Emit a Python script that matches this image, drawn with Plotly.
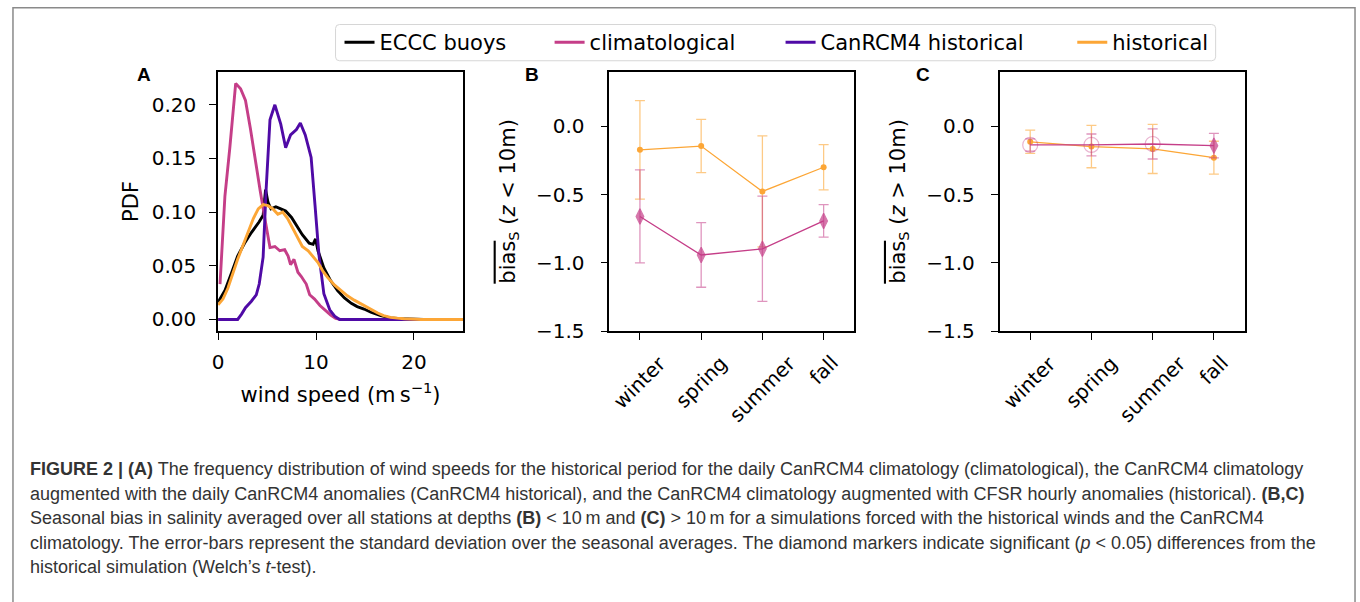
import plotly.graph_objects as go

W, H = 1360, 602

# ---------------- data ----------------
# Panel A: wind-speed PDFs
ws_eccc = [0, 0.7, 1.4, 2.0, 2.7, 3.4, 4.2, 4.6, 4.85, 5.1, 5.4, 5.9, 6.4, 6.9, 7.5, 8.0,
           8.6, 9.3, 9.7, 9.95, 10.2, 10.8, 11.5, 12.2, 12.9, 13.6, 14.2, 14.9, 15.6,
           16.6, 17.6, 18.6, 19.6, 21, 23, 25]
pdf_eccc = [0.016, 0.027, 0.044, 0.059, 0.071, 0.081, 0.091, 0.097, 0.121, 0.109, 0.103,
            0.105, 0.103, 0.101, 0.095, 0.088, 0.079, 0.071, 0.070, 0.075, 0.064, 0.048,
            0.036, 0.027, 0.020, 0.015, 0.012, 0.0097, 0.0067, 0.0036, 0.0015, 0.0006,
            0.0002, 0.0001, 0.0, 0.0]

ws_clim = [0.2, 0.7, 1.2, 1.8, 2.3, 2.8, 3.3, 3.8, 4.3, 4.8, 5.3, 5.8, 6.3, 6.8, 7.15, 7.4,
           7.75, 8.15, 8.5, 9.0, 9.35, 9.85, 10.4, 10.9, 11.5, 12.0, 12.5]
pdf_clim = [0.033, 0.115, 0.160, 0.220, 0.215, 0.204, 0.178, 0.147, 0.120, 0.093, 0.067,
            0.068, 0.064, 0.065, 0.059, 0.051, 0.056, 0.044, 0.040, 0.033, 0.023, 0.019,
            0.013, 0.009, 0.004, 0.001, 0.0]

ws_canrcm = [0, 0.5, 1.0, 1.5, 2.0, 2.4, 2.8, 3.4, 3.9, 4.2, 4.6, 4.9, 5.3, 5.8, 6.4, 6.9,
             7.4, 8.0, 8.4, 8.9, 9.5, 9.9, 10.3, 10.8, 11.4, 11.9, 12.4, 15, 20, 25]
pdf_canrcm = [0, 0, 0, 0, 0, 0.005, 0.011, 0.017, 0.023, 0.033, 0.058, 0.120, 0.186, 0.200,
              0.182, 0.160, 0.172, 0.177, 0.183, 0.172, 0.151, 0.106, 0.060, 0.024, 0.009,
              0.003, 0.0, 0.0, 0.0, 0.0]

ws_hist = [0, 0.5, 1.0, 1.5, 2.0, 2.5, 3.05, 3.6, 4.1, 4.6, 5.1, 5.6, 6.1, 6.6, 7.1, 7.6,
           8.1, 8.6, 9.2, 9.7, 10.2, 10.7, 11.2, 11.9, 12.5, 13.2, 13.9, 14.6, 15.1, 15.6,
           16.3, 16.9, 17.6, 18.3, 19.0, 20.7, 25]
pdf_hist = [0.0136, 0.019, 0.029, 0.043, 0.056, 0.068, 0.081, 0.094, 0.103, 0.107, 0.106,
            0.103, 0.098, 0.100, 0.094, 0.085, 0.076, 0.068, 0.064, 0.059, 0.053, 0.045,
            0.039, 0.032, 0.027, 0.022, 0.018, 0.0145, 0.012, 0.009, 0.006, 0.0036, 0.002,
            0.0012, 0.0006, 0.0, 0.0]

series_names = ["ECCC buoys", "climatological", "CanRCM4 historical", "historical"]

# Panels B, C: seasonal salinity bias
seasons = ["winter", "spring", "summer", "fall"]
b_hist = [-0.173, -0.145, -0.477, -0.300]
b_hist_err = [0.360, 0.195, 0.406, 0.165]
b_clim = [-0.660, -0.942, -0.897, -0.693]
b_clim_err = [0.340, 0.236, 0.385, 0.119]
b_signif = [True, True, True, True]

c_hist = [-0.114, -0.149, -0.166, -0.230]
c_hist_err = [0.085, 0.155, 0.180, 0.120]
c_clim = [-0.137, -0.137, -0.130, -0.142]
c_clim_err = [0.045, 0.080, 0.110, 0.090]
c_signif = [False, False, False, True]

y_ticks_pdf = [0.0, 0.05, 0.10, 0.15, 0.20]
y_ticks_bias = [0.0, -0.5, -1.0, -1.5]
x_ticks_ws = [0, 10, 20]

# ---------------- style ----------------
BLACK = "#000000"
MAGENTA = "#c53e88"
PURPLE = "#4f0aa6"
ORANGE = "#fca636"
MAG_ERR = "rgba(197,62,136,0.55)"
ORA_ERR = "rgba(252,166,54,0.6)"
colors = [BLACK, MAGENTA, PURPLE, ORANGE]
TICKFONT = dict(family="DejaVu Sans", size=20, color="black")
TITLEFONT = dict(family="DejaVu Sans", size=21, color="black")


def px_x(x):
    return x / W


def px_y(y):
    return 1 - y / H


fig = go.Figure()

# Panel A traces, each in its own legend slot
legend_ids = ["legend", "legend2", "legend3", "legend4"]
for name, xs, ys, col, lg in zip(series_names,
                                 [ws_eccc, ws_clim, ws_canrcm, ws_hist],
                                 [pdf_eccc, pdf_clim, pdf_canrcm, pdf_hist],
                                 colors, legend_ids):
    fig.add_trace(go.Scatter(x=xs, y=ys, mode="lines", name=name,
                             line=dict(color=col, width=2.9),
                             xaxis="x", yaxis="y", legend=lg))


def bias_traces(xa, ya, hist, hist_err, clim, clim_err, signif):
    fig.add_trace(go.Scatter(
        x=seasons, y=hist, mode="lines+markers", showlegend=False,
        line=dict(color=ORANGE, width=1.3),
        marker=dict(color=ORANGE, size=6, symbol="circle"),
        error_y=dict(type="data", array=hist_err, color=ORA_ERR, thickness=1.3, width=5),
        xaxis=xa, yaxis=ya))
    fig.add_trace(go.Scatter(
        x=seasons, y=clim, mode="lines+markers", showlegend=False,
        line=dict(color=MAGENTA, width=1.3),
        marker=dict(color=[MAGENTA if s else MAG_ERR for s in signif],
                    size=[11 if s else 15 for s in signif],
                    symbol=["diamond-tall" if s else "circle-open" for s in signif],
                    line=dict(width=1.2)),
        error_y=dict(type="data", array=clim_err, color=MAG_ERR, thickness=1.3, width=5),
        xaxis=xa, yaxis=ya))


bias_traces("x2", "y2", b_hist, b_hist_err, b_clim, b_clim_err, b_signif)
bias_traces("x3", "y3", c_hist, c_hist_err, c_clim, c_clim_err, c_signif)

ydom = [px_y(338), px_y(73)]
axis_common = dict(showline=True, linecolor="black", linewidth=1.5, mirror=True,
                   ticks="outside", ticklen=7, tickwidth=1.4, tickcolor="black",
                   showgrid=False, zeroline=False, tickfont=TICKFONT)

fig.update_layout(
    width=W, height=H,
    margin=dict(l=0, r=0, t=0, b=0),
    paper_bgcolor="white", plot_bgcolor="white",
    xaxis=dict(domain=[px_x(213), px_x(459)], range=[0, 25], tickvals=x_ticks_ws,
               ticklabelstandoff=5,
               title=dict(text="wind speed (m\u2009s<sup>\u22121</sup>)", font=TITLEFONT, standoff=14),
               anchor="y", **axis_common),
    yaxis=dict(domain=ydom, range=[-0.011, 0.231], tickvals=y_ticks_pdf, tickformat=".2f",
               ticklabelstandoff=9,
               title=dict(text="PDF", font=TITLEFONT, standoff=7), anchor="x",
               **axis_common),
    xaxis2=dict(domain=[px_x(606), px_x(852)], range=[-0.5, 3.5], type="category",
                categoryorder="array", categoryarray=seasons, showticklabels=False,
                anchor="y2", **axis_common),
    yaxis2=dict(domain=ydom, range=[-1.5, 0.4], tickvals=y_ticks_bias, tickformat=".1f",
                ticklabelstandoff=12,
                title=dict(text="<span style='text-decoration:overline'>bias</span><sub>S</sub> (<i>z</i> &lt; 10m)",
                           font=TITLEFONT, standoff=15),
                anchor="x2", **axis_common),
    xaxis3=dict(domain=[px_x(998), px_x(1244)], range=[-0.5, 3.5], type="category",
                categoryorder="array", categoryarray=seasons, showticklabels=False,
                anchor="y3", **axis_common),
    yaxis3=dict(domain=ydom, range=[-1.5, 0.4], tickvals=y_ticks_bias, tickformat=".1f",
                ticklabelstandoff=12,
                title=dict(text="<span style='text-decoration:overline'>bias</span><sub>S</sub> (<i>z</i> &gt; 10m)",
                           font=TITLEFONT, standoff=15),
                anchor="x3", **axis_common),
    showlegend=True,
)

# legends (one per entry, placed inside a common rounded box)
legend_text_x = [375, 586, 818, 1111]
for lg, tx in zip(legend_ids, legend_text_x):
    fig.update_layout({lg: dict(x=px_x(tx - 40), y=px_y(43.5), xanchor="left", yanchor="middle",
                                bgcolor="rgba(0,0,0,0)", borderwidth=0,
                                font=dict(family="DejaVu Sans", size=21, color="black"),
                                itemwidth=30)})

shapes = []
# outer figure frame
shapes.append(dict(type="rect", xref="paper", yref="paper",
                   x0=px_x(7), x1=px_x(1355), y0=-0.05, y1=px_y(8),
                   line=dict(color="#8a8a8a", width=1.5)))
# legend frame (rounded)
lx0, lx1, ly0, ly1, r = 331, 1215, 25, 62, 4
path = (f"M {px_x(lx0 + r)},{px_y(ly0)} L {px_x(lx1 - r)},{px_y(ly0)} "
        f"Q {px_x(lx1)},{px_y(ly0)} {px_x(lx1)},{px_y(ly0 + r)} "
        f"L {px_x(lx1)},{px_y(ly1 - r)} Q {px_x(lx1)},{px_y(ly1)} {px_x(lx1 - r)},{px_y(ly1)} "
        f"L {px_x(lx0 + r)},{px_y(ly1)} Q {px_x(lx0)},{px_y(ly1)} {px_x(lx0)},{px_y(ly1 - r)} "
        f"L {px_x(lx0)},{px_y(ly0 + r)} Q {px_x(lx0)},{px_y(ly0)} {px_x(lx0 + r)},{px_y(ly0)} Z")
shapes.append(dict(type="path", xref="paper", yref="paper", path=path,
                   line=dict(color="#d6d6d6", width=1)))
fig.update_layout(shapes=shapes)

annotations = []
# panel letters
for letter, xpx in zip(["A", "B", "C"], [139, 528, 921]):
    annotations.append(dict(text=f"<b>{letter}</b>", x=px_x(xpx), y=px_y(76),
                            xref="paper", yref="paper", showarrow=False,
                            xanchor="center", yanchor="middle",
                            font=dict(family="Liberation Sans", size=19, color="black")))
# rotated season tick labels for B and C
for xa in ["x2", "x3"]:
    for s in seasons:
        annotations.append(dict(text=s, x=s, xref=xa, y=px_y(357), yref="paper",
                                showarrow=False, textangle=-45, xanchor="center",
                                yanchor="top", borderpad=0,
                                font=TICKFONT))
# caption
caption_lines = [
    "<b>FIGURE 2 | (A)</b> The frequency distribution of wind speeds for the historical period for the daily CanRCM4 climatology (climatological), the CanRCM4 climatology",
    "augmented with the daily CanRCM4 anomalies (CanRCM4 historical), and the CanRCM4 climatology augmented with CFSR hourly anomalies (historical). <b>(B,C)</b>",
    "Seasonal bias in salinity averaged over all stations at depths <b>(B)</b> &lt; 10\u2009m and <b>(C)</b> &gt; 10\u2009m for a simulations forced with the historical winds and the CanRCM4",
    "climatology. The error-bars represent the standard deviation over the seasonal averages. The diamond markers indicate significant (<i>p</i> &lt; 0.05) differences from the",
    "historical simulation (Welch\u2019s <i>t</i>-test).",
]
caption_y = [479, 504, 529, 554, 579]
for line, ypx in zip(caption_lines, caption_y):
    annotations.append(dict(text=line, x=px_x(22), y=px_y(ypx), xref="paper", yref="paper",
                            showarrow=False, xanchor="left", yanchor="middle",
                            font=dict(family="Liberation Sans", size=18, color="#333333")))
fig.update_layout(annotations=annotations)

fig.write_html("out.html")
